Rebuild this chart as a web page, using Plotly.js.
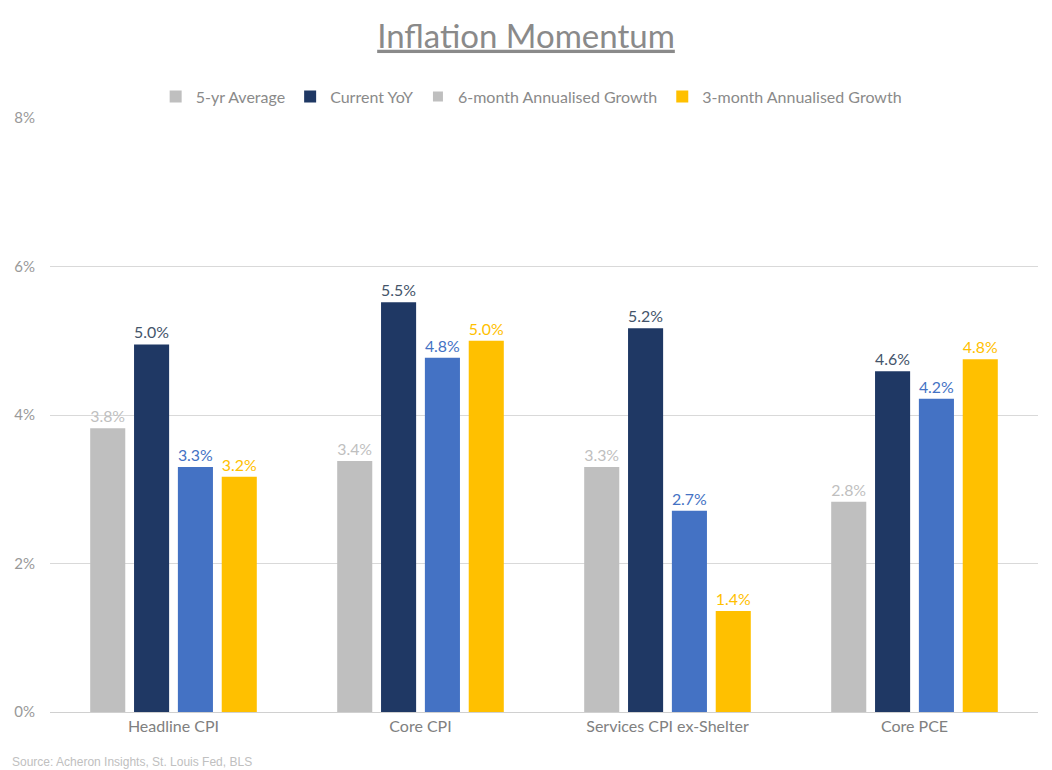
<!DOCTYPE html>
<html>
<head>
<meta charset="utf-8">
<script src="https://cdn.plot.ly/plotly-3.0.1.min.js"></script>
<style>
  body { margin: 0; background: #fff; }
  #chart { width: 1052px; height: 770px; }
</style>
</head>
<body>
<div id="chart"></div>
<script>
const categories = ['Headline CPI', 'Core CPI', 'Services CPI ex-Shelter', 'Core PCE'];
const fiveYrAvg = [3.82, 3.38, 3.30, 2.83];
const currentYoY = [4.95, 5.52, 5.17, 4.59];
const sixMonth = [3.30, 4.77, 2.71, 4.22];
const threeMonth = [3.17, 5.0, 1.36, 4.75];
const yTicks = [0, 2, 4, 6, 8];

const font = 'Lato, "Open Sans", sans-serif';

function barTrace(name, values, color, labelColor, legend) {
    return {
        type: 'bar',
        name: name,
        x: categories,
        y: values,
        marker: { color: color },
        text: values.map(v => v.toFixed(1) + '%'),
        textposition: 'outside',
        textfont: { family: font, size: 16, color: labelColor },
        cliponaxis: false,
        showlegend: legend,
        hoverinfo: 'x+y'
    };
}

// legend swatch for the 6-month series is grey in the original
const sixMonthLegend = {
    type: 'scatter',
    mode: 'markers',
    name: '6-month Annualised Growth',
    x: [categories[0]],
    y: [null],
    marker: { color: '#bfbfbf', symbol: 'square', size: 10 },
    showlegend: true
};

const traces = [
    barTrace('5-yr Average', fiveYrAvg, '#bfbfbf', '#bfbfbf', true),
    barTrace('Current YoY', currentYoY, '#1f3864', '#44546a', true),
    sixMonthLegend,
    barTrace('6-month Annualised Growth', sixMonth, '#4472c4', '#4472c4', false),
    barTrace('3-month Annualised Growth', threeMonth, '#ffc000', '#ffc000', true)
];

const layout = {
    width: 1052,
    height: 770,
    paper_bgcolor: '#ffffff',
    plot_bgcolor: '#ffffff',
    font: { family: font, color: '#808080' },
    title: {
        text: '<u>Inflation Momentum</u>',
        font: { family: font, size: 33, color: '#8a8a8a' },
        x: 0.5,
        xanchor: 'center',
        y: 0.953,
        yanchor: 'middle'
    },
    margin: { l: 50, r: 14, t: 118, b: 58 },
    barmode: 'group',
    bargap: 0.29,
    bargroupgap: 0.2,
    legend: {
        orientation: 'h',
        x: 0.487,
        xanchor: 'center',
        y: 1.036,
        yanchor: 'middle',
        font: { family: font, size: 16, color: '#8a8a8a' },
        itemwidth: 20,
        traceorder: 'normal'
    },
    xaxis: {
        type: 'category',
        tickfont: { family: font, size: 16, color: '#808080' },
        showline: true,
        linecolor: '#d0d0d0',
        linewidth: 1,
        ticks: '',
        showgrid: false
    },
    yaxis: {
        range: [0, 8],
        tickvals: yTicks,
        ticktext: yTicks.map(t => t + '%'),
        tickfont: { family: font, size: 15, color: '#999999' },
        showgrid: true,
        gridcolor: '#d9d9d9',
        zeroline: false,
        ticks: '',
        ticklabelstandoff: 14
    },
    annotations: [{
        text: 'Source: Acheron Insights, St. Louis Fed, BLS',
        xref: 'paper', yref: 'paper',
        x: -0.04, y: 0,
        xanchor: 'left', yanchor: 'top',
        yshift: -41,
        showarrow: false,
        font: { family: 'Liberation Sans, Arial, sans-serif', size: 12, color: '#c0c0c0' }
    }]
};

Plotly.newPlot('chart', traces, layout, { displayModeBar: false });
</script>
</body>
</html>
